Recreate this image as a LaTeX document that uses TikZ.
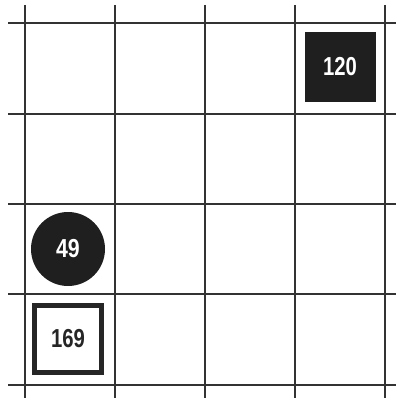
\documentclass[tikz,border=0pt]{standalone}
\usepackage{fontspec}
\setmainfont{Liberation Sans}
\begin{document}
\begin{tikzpicture}[x=1pt,y=-1pt,
  gridline/.style={line width=1.2pt,draw=black!80},
  numtext/.style={font=\fontsize{26}{26}\selectfont\bfseries},
  blacksq/.style={fill=black!88,draw=none,minimum width=71pt,minimum height=70pt,inner sep=0pt,text=white,numtext},
  blackcirc/.style={circle,fill=black!88,draw=none,minimum size=74pt,inner sep=0pt,text=white,numtext},
  whitesq/.style={fill=white,draw=black!85,line width=5pt,minimum width=67pt,minimum height=67pt,inner sep=0pt,text=black!85,numtext}]
\useasboundingbox (0,0) rectangle (396,401);
\foreach \x in {25,115,205,295,385} {
  \draw[gridline] (\x,5) -- (\x,398);
}
\foreach \y in {23,114,204,294,385} {
  \draw[gridline] (8,\y) -- (396,\y);
}
\node[blacksq] (n120) at (340,67) {\scalebox{0.78}[1]{120}};
\node[blackcirc] (n49) at (68,249) {\scalebox{0.82}[1]{49}};
\node[whitesq] (n169) at (68,339) {\scalebox{0.78}[1]{169}};
\end{tikzpicture}
\end{document}
